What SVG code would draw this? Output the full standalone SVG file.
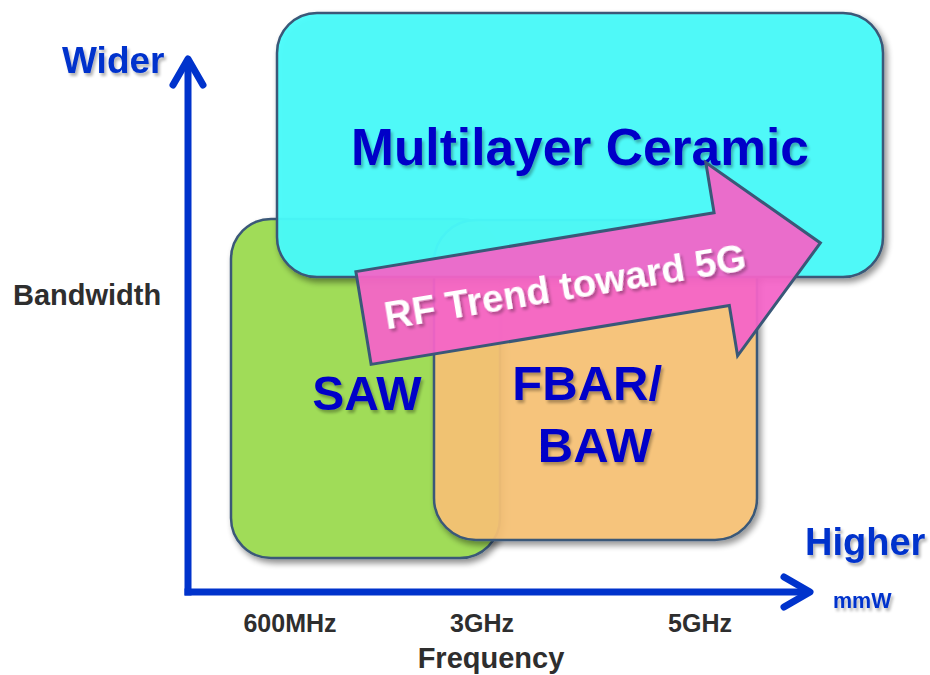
<svg xmlns="http://www.w3.org/2000/svg" width="930" height="675" viewBox="0 0 930 675">
  <style>
    text { font-family: "Liberation Sans", Arial, sans-serif; font-weight: bold; }
    .box { stroke: #3a5878; stroke-width: 2.5; }
    .node-label { fill: #0000c8; }
    .axis-label { fill: #0033cc; }
    .tick { fill: #2e2e2e; font-size: 25px; text-anchor: middle; }
    .axis { fill: none; stroke: #0033cc; stroke-width: 7; }
  </style>
  <defs>
    <filter id="shadow" x="-10%" y="-10%" width="125%" height="125%">
      <feGaussianBlur in="SourceAlpha" stdDeviation="3"/>
      <feOffset dx="3" dy="4" result="b"/>
      <feComponentTransfer><feFuncA type="linear" slope="0.45"/></feComponentTransfer>
      <feMerge><feMergeNode/><feMergeNode in="SourceGraphic"/></feMerge>
    </filter>
    <filter id="tshadow" x="-10%" y="-20%" width="125%" height="150%">
      <feGaussianBlur in="SourceAlpha" stdDeviation="1.5"/>
      <feOffset dx="2" dy="3" result="b"/>
      <feComponentTransfer><feFuncA type="linear" slope="0.3"/></feComponentTransfer>
      <feMerge><feMergeNode/><feMergeNode in="SourceGraphic"/></feMerge>
    </filter>
    <marker id="chevron" markerUnits="userSpaceOnUse" viewBox="-32 -20 36 40" markerWidth="36" markerHeight="40" refX="0" refY="0" orient="auto">
      <path d="M-26,-15 L0,0 L-26,15" fill="none" stroke="#0033cc" stroke-width="7" stroke-linecap="round" stroke-linejoin="round"/>
    </marker>
  </defs>

  <rect width="930" height="675" fill="#ffffff"/>

  <g id="connectors">
    <path class="axis" d="M188,595.5 L188,59" marker-end="url(#chevron)"/>
    <path class="axis" d="M184.5,592 L810,592" marker-end="url(#chevron)"/>
  </g>

  <g id="saw">
    <rect class="box" x="231" y="219" width="269" height="339" rx="40" fill="#a0dc58" filter="url(#shadow)"/>
    <text class="node-label" x="367" y="410" font-size="48" text-anchor="middle" filter="url(#tshadow)">SAW</text>
  </g>

  <g id="fbar">
    <rect class="box" x="434" y="220" width="323" height="320" rx="42" fill="#f9c477" fill-opacity="0.9" filter="url(#shadow)"/>
    <text class="node-label" font-size="49" text-anchor="middle" filter="url(#tshadow)">
      <tspan x="594" y="400">FBAR/</tspan>
      <tspan x="595" y="462">BAW</tspan>
    </text>
  </g>

  <g id="ceramic">
    <rect class="box" x="277" y="13" width="606" height="264" rx="40" fill="#48fcfb" fill-opacity="0.94" filter="url(#shadow)"/>
    <text class="node-label" x="580" y="165" font-size="51.5" text-anchor="middle" filter="url(#tshadow)">Multilayer Ceramic</text>
  </g>

  <g id="trend-arrow" transform="translate(363.5,318) rotate(-9.33)">
    <path d="M0,-47 L363,-47 L363,-98 L463,0 L363,98 L363,47 L0,47 Z" fill="#f464c8" fill-opacity="0.94" stroke="#3a5878" stroke-width="3" stroke-linejoin="miter"/>
    <text x="204" y="15" font-size="38.5" fill="#ffffff" text-anchor="middle" filter="url(#tshadow)">RF Trend toward 5G</text>
  </g>

  <g id="labels">
    <text class="axis-label" x="62" y="73" font-size="37" filter="url(#tshadow)">Wider</text>
    <text x="13" y="305" font-size="29" fill="#2e2e2e">Bandwidth</text>
    <text class="axis-label" x="805" y="555" font-size="38" filter="url(#tshadow)">Higher</text>
    <text class="axis-label" x="833" y="608" font-size="21.5" filter="url(#tshadow)">mmW</text>
    <text class="tick" x="290" y="632">600MHz</text>
    <text class="tick" x="482" y="632">3GHz</text>
    <text class="tick" x="700" y="632">5GHz</text>
    <text x="491" y="668" font-size="29" fill="#2e2e2e" text-anchor="middle">Frequency</text>
  </g>
</svg>
